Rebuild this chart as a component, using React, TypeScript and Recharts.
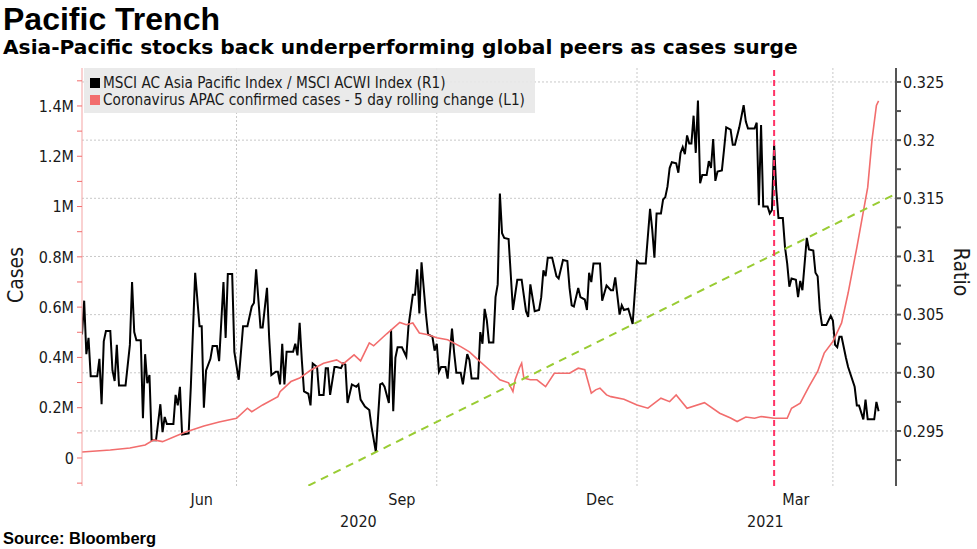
import { LineChart, Line, XAxis, YAxis, ReferenceLine } from 'recharts';

const TICK_FONT = '"DejaVu Sans Condensed", "DejaVu Sans", sans-serif';
const HEAD_FONT = '"Liberation Sans", Arial, sans-serif';
const SUB_FONT = '"DejaVu Sans", Verdana, sans-serif';

const day = (s: string) => Date.parse(s + 'T00:00:00Z');

// x axis
const X_START = '2020-04-21';
const X_END = '2021-04-30';
const MONTH_TICKS = ['2020-06-15', '2020-09-15', '2020-12-15', '2021-03-15'];
const MONTH_LABELS = ['Jun', 'Sep', 'Dec', 'Mar'];
const YEAR_TICKS = ['2020-08-26', '2021-03-01'];
const YEAR_LABELS = ['2020', '2021'];
const QUARTER_LINES = ['2020-07-01', '2020-10-01', '2021-01-01', '2021-04-01'];
const MARKER_DATE = '2021-03-05';

// left axis (cases)
const CASE_TICKS = [-100000, 0, 100000, 200000, 300000, 400000, 500000, 600000, 700000, 800000, 900000, 1000000, 1100000, 1200000, 1300000, 1400000, 1500000];
const CASE_LABELS: Record<number, string> = { 0: '0', 200000: '0.2M', 400000: '0.4M', 600000: '0.6M', 800000: '0.8M', 1000000: '1M', 1200000: '1.2M', 1400000: '1.4M' };

// right axis (ratio)
const RATIO_TICKS = [0.2925, 0.295, 0.2975, 0.3, 0.3025, 0.305, 0.3075, 0.31, 0.3125, 0.315, 0.3175, 0.32, 0.3225, 0.325];
const RATIO_MAJOR = [0.295, 0.3, 0.305, 0.31, 0.315, 0.32, 0.325];
const RATIO_LABELS = ['0.295', '0.30', '0.305', '0.31', '0.315', '0.32', '0.325'];

// MSCI AC Asia Pacific / MSCI ACWI (R1)
const RATIO_DATES = [
  '2020-04-21', '2020-04-22', '2020-04-23', '2020-04-24', '2020-04-25', '2020-04-28', '2020-04-29', '2020-04-30',
  '2020-05-01', '2020-05-02', '2020-05-04', '2020-05-05', '2020-05-06', '2020-05-07', '2020-05-08', '2020-05-11', '2020-05-13', '2020-05-14', '2020-05-15', '2020-05-16', '2020-05-18', '2020-05-19', '2020-05-20', '2020-05-21', '2020-05-22', '2020-05-23', '2020-05-25', '2020-05-27', '2020-05-28', '2020-05-29', '2020-05-30',
  '2020-06-02', '2020-06-03', '2020-06-04', '2020-06-05', '2020-06-06', '2020-06-09', '2020-06-10', '2020-06-12', '2020-06-14', '2020-06-15', '2020-06-16', '2020-06-17', '2020-06-19', '2020-06-20', '2020-06-22', '2020-06-23', '2020-06-25', '2020-06-26', '2020-06-27', '2020-06-29', '2020-06-30',
  '2020-07-02', '2020-07-04', '2020-07-06', '2020-07-08', '2020-07-09', '2020-07-10', '2020-07-12', '2020-07-13', '2020-07-15', '2020-07-16', '2020-07-17', '2020-07-19', '2020-07-20', '2020-07-21', '2020-07-22', '2020-07-23', '2020-07-24', '2020-07-27', '2020-07-28', '2020-07-29', '2020-07-30', '2020-07-31',
  '2020-08-01', '2020-08-03', '2020-08-04', '2020-08-05', '2020-08-07', '2020-08-08', '2020-08-10', '2020-08-11', '2020-08-12', '2020-08-13', '2020-08-15', '2020-08-16', '2020-08-18', '2020-08-19', '2020-08-20', '2020-08-21', '2020-08-23', '2020-08-25', '2020-08-26', '2020-08-27', '2020-08-29', '2020-08-31',
  '2020-09-01', '2020-09-03', '2020-09-05', '2020-09-06', '2020-09-07', '2020-09-09', '2020-09-10', '2020-09-11', '2020-09-12', '2020-09-13', '2020-09-15', '2020-09-17', '2020-09-18', '2020-09-20', '2020-09-21', '2020-09-22', '2020-09-23', '2020-09-24', '2020-09-26', '2020-09-27', '2020-09-29', '2020-09-30',
  '2020-10-01', '2020-10-02', '2020-10-03', '2020-10-05', '2020-10-06', '2020-10-08', '2020-10-09', '2020-10-10', '2020-10-12', '2020-10-13', '2020-10-15', '2020-10-16', '2020-10-17', '2020-10-20', '2020-10-21', '2020-10-22', '2020-10-23', '2020-10-24', '2020-10-25', '2020-10-27', '2020-10-28', '2020-10-29', '2020-10-30', '2020-10-31',
  '2020-11-01', '2020-11-03', '2020-11-05', '2020-11-07', '2020-11-09', '2020-11-11', '2020-11-12', '2020-11-13', '2020-11-15', '2020-11-17', '2020-11-18', '2020-11-19', '2020-11-20', '2020-11-21', '2020-11-23', '2020-11-25', '2020-11-26', '2020-11-28', '2020-11-30',
  '2020-12-01', '2020-12-02', '2020-12-03', '2020-12-05', '2020-12-06', '2020-12-08', '2020-12-09', '2020-12-10', '2020-12-11', '2020-12-12', '2020-12-15', '2020-12-16', '2020-12-18', '2020-12-20', '2020-12-21', '2020-12-22', '2020-12-24', '2020-12-25', '2020-12-26', '2020-12-28', '2020-12-30',
  '2021-01-01', '2021-01-02', '2021-01-05', '2021-01-07', '2021-01-08', '2021-01-09', '2021-01-10', '2021-01-12', '2021-01-13', '2021-01-14', '2021-01-15', '2021-01-16', '2021-01-17', '2021-01-19', '2021-01-20', '2021-01-21', '2021-01-22', '2021-01-23', '2021-01-24', '2021-01-25', '2021-01-26', '2021-01-27', '2021-01-28', '2021-01-29', '2021-01-30', '2021-01-31',
  '2021-02-02', '2021-02-03', '2021-02-04', '2021-02-05', '2021-02-06', '2021-02-07', '2021-02-09', '2021-02-10', '2021-02-11', '2021-02-13', '2021-02-14', '2021-02-15', '2021-02-17', '2021-02-19', '2021-02-20', '2021-02-21', '2021-02-24', '2021-02-25', '2021-02-26', '2021-02-27', '2021-02-28',
  '2021-03-02', '2021-03-03', '2021-03-04', '2021-03-05', '2021-03-06', '2021-03-07', '2021-03-09', '2021-03-10', '2021-03-11', '2021-03-12', '2021-03-13', '2021-03-15', '2021-03-16', '2021-03-17', '2021-03-18', '2021-03-20', '2021-03-21', '2021-03-23', '2021-03-24', '2021-03-25', '2021-03-26', '2021-03-27', '2021-03-29', '2021-03-31',
  '2021-04-01', '2021-04-02', '2021-04-03', '2021-04-04', '2021-04-05', '2021-04-07', '2021-04-08', '2021-04-11', '2021-04-12', '2021-04-13', '2021-04-15', '2021-04-16', '2021-04-17', '2021-04-20', '2021-04-21', '2021-04-22',
];
const RATIO_VALUES = [
  0.3033, 0.3062, 0.3016, 0.3030, 0.2997, 0.2997, 0.3012, 0.2973,
  0.3027, 0.3036, 0.3036, 0.3002, 0.2993, 0.3024, 0.2989, 0.2989, 0.3024, 0.3078, 0.3035, 0.3028, 0.3028, 0.2961, 0.3016, 0.2991, 0.2998, 0.2942, 0.2942, 0.2973, 0.2949, 0.2962, 0.2956,
  0.2956, 0.2981, 0.2972, 0.2988, 0.2947, 0.2948, 0.2988, 0.3086, 0.3040, 0.3040, 0.2970, 0.3002, 0.3012, 0.3023, 0.3023, 0.3010, 0.3078, 0.3030, 0.3085, 0.3085, 0.3018,
  0.2994, 0.3040, 0.3040, 0.3057, 0.3060, 0.3089, 0.3039, 0.3039, 0.3073, 0.3030, 0.2998, 0.3001, 0.3001, 0.2990, 0.3025, 0.2990, 0.3018, 0.3018, 0.3025, 0.3015, 0.3043, 0.3011,
  0.2984, 0.2982, 0.2972, 0.3008, 0.3005, 0.2981, 0.2981, 0.3004, 0.3004, 0.2981, 0.3005, 0.3005, 0.3004, 0.3008, 0.3007, 0.2974, 0.2990, 0.2988, 0.2990, 0.2977, 0.2971, 0.2968,
  0.2954, 0.2932, 0.2990, 0.2991, 0.2988, 0.2974, 0.3037, 0.2967, 0.3013, 0.3022, 0.3022, 0.3014, 0.3040, 0.3067, 0.3067, 0.3089, 0.3051, 0.3095, 0.3051, 0.3033, 0.3031, 0.3019,
  0.3025, 0.3001, 0.3005, 0.3005, 0.2995, 0.3038, 0.3017, 0.3000, 0.3000, 0.2990, 0.3016, 0.3011, 0.2995, 0.2995, 0.3035, 0.3025, 0.3055, 0.3045, 0.3026, 0.3026, 0.3065, 0.3076, 0.3154, 0.3120,
  0.3116, 0.3115, 0.3054, 0.3080, 0.3080, 0.3053, 0.3048, 0.3076, 0.3053, 0.3054, 0.3065, 0.3088, 0.3083, 0.3099, 0.3099, 0.3083, 0.3081, 0.3097, 0.3096,
  0.3073, 0.3058, 0.3057, 0.3073, 0.3065, 0.3063, 0.3054, 0.3086, 0.3078, 0.3094, 0.3094, 0.3062, 0.3075, 0.3071, 0.3071, 0.3082, 0.3050, 0.3058, 0.3054, 0.3055, 0.3042,
  0.3096, 0.3094, 0.3094, 0.3141, 0.3123, 0.3099, 0.3137, 0.3137, 0.3149, 0.3151, 0.3160, 0.3176, 0.3181, 0.3180, 0.3172, 0.3189, 0.3194, 0.3188, 0.3204, 0.3197, 0.3197, 0.3221, 0.3189, 0.3234, 0.3163, 0.3170,
  0.3170, 0.3182, 0.3176, 0.3201, 0.3165, 0.3173, 0.3174, 0.3192, 0.3211, 0.3209, 0.3196, 0.3196, 0.3211, 0.3230, 0.3216, 0.3210, 0.3210, 0.3215, 0.3144, 0.3213, 0.3143,
  0.3143, 0.3137, 0.3140, 0.3196, 0.3157, 0.3133, 0.3133, 0.3108, 0.3094, 0.3074, 0.3081, 0.3080, 0.3065, 0.3079, 0.3071, 0.3116, 0.3106, 0.3105, 0.3086, 0.3083, 0.3054, 0.3041, 0.3041, 0.3049,
  0.3045, 0.3024, 0.3022, 0.3031, 0.3031, 0.3013, 0.3005, 0.2988, 0.2972, 0.2972, 0.2960, 0.2977, 0.2960, 0.2960, 0.2975, 0.2967,
];

// Coronavirus APAC confirmed cases, 5 day rolling change (L1)
const CASE_DATES = [
  '2020-04-21', '2020-05-04', '2020-05-13', '2020-05-20', '2020-05-24', '2020-05-28', '2020-06-07', '2020-06-16', '2020-06-23',
  '2020-07-01', '2020-07-06', '2020-07-08', '2020-07-13', '2020-07-20', '2020-07-21', '2020-07-26', '2020-07-30',
  '2020-08-04', '2020-08-10', '2020-08-16', '2020-08-19', '2020-08-24', '2020-08-27', '2020-08-31',
  '2020-09-02', '2020-09-08', '2020-09-14', '2020-09-17', '2020-09-20', '2020-09-23', '2020-09-27',
  '2020-10-01', '2020-10-06', '2020-10-12', '2020-10-16', '2020-10-20', '2020-10-26', '2020-10-30',
  '2020-11-03', '2020-11-05', '2020-11-06', '2020-11-08', '2020-11-09', '2020-11-10', '2020-11-13', '2020-11-16', '2020-11-20', '2020-11-24',
  '2020-12-01', '2020-12-05', '2020-12-08', '2020-12-11', '2020-12-13', '2020-12-15', '2020-12-18', '2020-12-20', '2020-12-26',
  '2021-01-01', '2021-01-06', '2021-01-12', '2021-01-16', '2021-01-19', '2021-01-24',
  '2021-02-01', '2021-02-08', '2021-02-13', '2021-02-16', '2021-02-20', '2021-02-24', '2021-02-27',
  '2021-03-05', '2021-03-11', '2021-03-13', '2021-03-17', '2021-03-21', '2021-03-25', '2021-03-28',
  '2021-04-01', '2021-04-05', '2021-04-08', '2021-04-12', '2021-04-17', '2021-04-19', '2021-04-21', '2021-04-22',
];
const CASE_VALUES = [
  24000, 32000, 40000, 52000, 72000, 65000, 101000, 127000, 143000,
  158000, 198000, 184000, 211000, 244000, 264000, 304000, 318000,
  349000, 377000, 390000, 374000, 410000, 386000, 458000,
  446000, 494000, 539000, 530000, 537000, 497000, 490000,
  478000, 470000, 443000, 422000, 390000, 344000, 311000,
  299000, 264000, 311000, 359000, 377000, 318000, 311000, 311000, 284000, 337000,
  337000, 357000, 351000, 258000, 271000, 278000, 251000, 244000, 234000,
  211000, 198000, 238000, 224000, 251000, 198000,
  220000, 178000, 159000, 145000, 163000, 158000, 165000,
  158000, 158000, 198000, 218000, 284000, 344000, 417000,
  463000, 537000, 656000, 837000, 1076000, 1267000, 1402000, 1420000,
];

// dashed trend line on the ratio axis
const TREND_DATES = ['2020-08-03', '2021-04-29'];
const TREND_VALUES = [0.2903, 0.3153];

const ratioData = RATIO_DATES.map((d, i) => ({ t: day(d), v: RATIO_VALUES[i] }));
const caseData = CASE_DATES.map((d, i) => ({ t: day(d), v: CASE_VALUES[i] }));
const trendData = TREND_DATES.map((d, i) => ({ t: day(d), v: TREND_VALUES[i] }));

const ratioLabel = (v: number) => {
  const i = RATIO_MAJOR.findIndex(m => Math.abs(m - v) < 1e-7);
  return i >= 0 ? RATIO_LABELS[i] : '';
};
const caseLabel = (v: number) => CASE_LABELS[Math.round(v)] ?? '';
const monthLabel = (v: number) => MONTH_LABELS[MONTH_TICKS.findIndex(d => day(d) === v)] ?? '';
const yearLabel = (v: number) => YEAR_LABELS[YEAR_TICKS.findIndex(d => day(d) === v)] ?? '';

const tickStyle = { fill: '#1a1a1a', fontSize: 16, fontFamily: TICK_FONT };
const GRID = '#c8c8c8';

export default function App() {
  return (
    <div style={{ position: 'absolute', left: 0, top: 0, width: 977, height: 549, background: '#fff', fontFamily: TICK_FONT }}>
      <div style={{ position: 'absolute', left: 3, top: 3, fontFamily: HEAD_FONT, fontWeight: 'bold', fontSize: 32, lineHeight: '32px', color: '#000' }}>
        Pacific Trench
      </div>
      <div style={{ position: 'absolute', left: 3, top: 36, fontFamily: SUB_FONT, fontWeight: 'bold', fontSize: 20.2, lineHeight: '22px', color: '#000', whiteSpace: 'nowrap' }}>
        Asia-Pacific stocks back underperforming global peers as cases surge
      </div>

      <div style={{ position: 'absolute', left: 0, top: 0 }}>
        <LineChart width={977} height={549} margin={{ top: 68, right: 0, bottom: 21, left: 0 }}>
          <XAxis
            xAxisId="m"
            type="number"
            dataKey="t"
            domain={[day(X_START), day(X_END)]}
            allowDataOverflow
            ticks={MONTH_TICKS.map(day)}
            interval={0}
            tickFormatter={monthLabel}
            axisLine={false}
            tickLine={false}
            height={22}
            tick={tickStyle}
          />
          <XAxis
            xAxisId="y"
            type="number"
            dataKey="t"
            domain={[day(X_START), day(X_END)]}
            allowDataOverflow
            ticks={YEAR_TICKS.map(day)}
            interval={0}
            tickFormatter={yearLabel}
            axisLine={false}
            tickLine={false}
            height={20}
            tick={tickStyle}
          />
          <YAxis
            yAxisId="left"
            orientation="left"
            width={82}
            domain={[-111400, 1551000]}
            allowDataOverflow
            ticks={CASE_TICKS}
            interval={0}
            tickFormatter={caseLabel}
            axisLine={{ stroke: '#f4a3a3' }}
            tickLine={{ stroke: '#f26d6d' }}
            tickSize={5}
            tickMargin={3}
            tick={tickStyle}
          />
          <YAxis
            yAxisId="right"
            orientation="right"
            width={81}
            domain={[0.29027, 0.3262]}
            allowDataOverflow
            ticks={RATIO_TICKS}
            interval={0}
            tickFormatter={ratioLabel}
            axisLine={{ stroke: '#555', strokeWidth: 2 }}
            tickLine={{ stroke: '#555', strokeWidth: 2 }}
            tickSize={5}
            tickMargin={2}
            tick={tickStyle}
          />
          {RATIO_MAJOR.map(v => (
            <ReferenceLine key={'h' + v} xAxisId="m" yAxisId="right" y={v} stroke={GRID} strokeDasharray="2 2" />
          ))}
          {QUARTER_LINES.map(d => (
            <ReferenceLine key={'v' + d} xAxisId="m" yAxisId="right" x={day(d)} stroke={GRID} strokeDasharray="2 2" />
          ))}
          <Line data={ratioData} xAxisId="m" yAxisId="right" dataKey="v" type="linear" stroke="#000" strokeWidth={2} dot={false} activeDot={false} isAnimationActive={false} />
          <Line data={caseData} xAxisId="m" yAxisId="left" dataKey="v" type="linear" stroke="#f26d6d" strokeWidth={1.6} dot={false} activeDot={false} isAnimationActive={false} />
          <Line data={trendData} xAxisId="m" yAxisId="right" dataKey="v" type="linear" stroke="#99cc33" strokeWidth={2} strokeDasharray="8 6" dot={false} activeDot={false} isAnimationActive={false} />
          <ReferenceLine xAxisId="m" yAxisId="left" x={day(MARKER_DATE)} stroke="#ff3366" strokeWidth={2} strokeDasharray="6 4" />
        </LineChart>
      </div>

      <div style={{ position: 'absolute', left: 84, top: 68, width: 451, height: 45, background: 'rgba(232,232,232,0.9)', fontSize: 15.2, color: '#1a1a1a' }}>
        <div style={{ position: 'absolute', left: 6, top: 7, display: 'flex', alignItems: 'center', whiteSpace: 'nowrap', lineHeight: '16px' }}>
          <span style={{ display: 'inline-block', width: 10, height: 10, background: '#000', marginRight: 3 }} />
          MSCI AC Asia Pacific Index / MSCI ACWI Index (R1)
        </div>
        <div style={{ position: 'absolute', left: 6, top: 24, display: 'flex', alignItems: 'center', whiteSpace: 'nowrap', lineHeight: '16px' }}>
          <span style={{ display: 'inline-block', width: 10, height: 10, background: '#f26d6d', marginRight: 3 }} />
          Coronavirus APAC confirmed cases - 5 day rolling change (L1)
        </div>
      </div>

      <div style={{ position: 'absolute', left: 16, top: 275, transform: 'translate(-50%, -50%) rotate(-90deg)', fontSize: 21, color: '#1a1a1a', whiteSpace: 'nowrap' }}>
        Cases
      </div>
      <div style={{ position: 'absolute', left: 961, top: 272, transform: 'translate(-50%, -50%) rotate(90deg)', fontSize: 21, color: '#1a1a1a', whiteSpace: 'nowrap' }}>
        Ratio
      </div>

      <div style={{ position: 'absolute', left: 3, top: 530, fontFamily: HEAD_FONT, fontWeight: 'bold', fontSize: 16.5, lineHeight: '16px', color: '#000' }}>
        Source: Bloomberg
      </div>
    </div>
  );
}
